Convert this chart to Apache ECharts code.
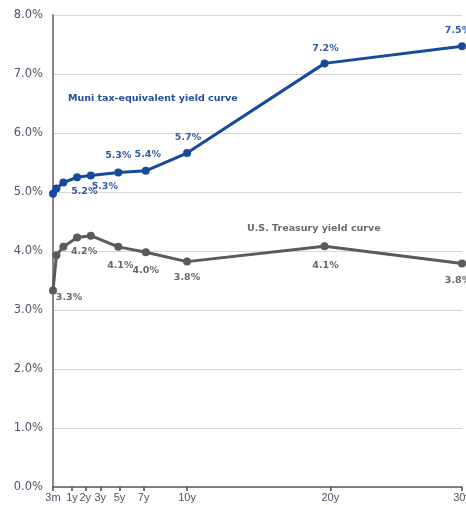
<!DOCTYPE html>
<html>
<head>
<meta charset="utf-8">
<script src="https://cdn.jsdelivr.net/npm/echarts@6/dist/echarts.min.js"></script>
<style>
  html, body { margin: 0; padding: 0; background: #fff; }
  #chart { width: 466px; height: 505px; }
</style>
</head>
<body>
<div id="chart"></div>
<script>
// Maturities in years (3m, 6m, 1y, 2y, 3y, 5y, 7y, 10y, 20y, 30y)
const maturities = [0.25, 0.5, 1, 2, 3, 5, 7, 10, 20, 30];
// Yields in percent
const muniYields = [4.97, 5.06, 5.16, 5.25, 5.28, 5.33, 5.36, 5.66, 7.18, 7.47];
const treasuryYields = [3.33, 3.93, 4.07, 4.23, 4.26, 4.07, 3.98, 3.82, 4.08, 3.79];
// Which points carry a value label
const muniLabelled = [false, false, true, false, true, true, true, true, true, true];
const treasuryLabelled = [true, false, false, true, false, true, true, true, true, true];
// Axis tick labels and where they sit along the maturity scale
const tickLabels = ['3m', '1y', '2y', '3y', '5y', '7y', '10y', '20y', '30y'];
const tickYears = [0.25, 1.63, 2.6, 3.69, 5.09, 6.84, 10, 20.42, 30];
const yTicks = [0, 1, 2, 3, 4, 5, 6, 7, 8];

// Label offsets relative to each point (pixels)
const muniLabelOffset = [null, null, [21, 9], null, [14, 11], [0, -17], [2, -16], [1, -16], [1, -15], [-4, -16]];
const treasuryLabelOffset = [[16, 7], null, null, [7, 14], null, [2, 19], [0, 18], [0, 16], [1, 19], [-4, 17]];

const BLUE = '#164a9c';
const GREY = '#5a5a5a';
const FONT = 'DejaVu Sans, Verdana, sans-serif';
const NARROW_FONT = 'Liberation Sans, Arial, sans-serif';

function buildSeriesData(values, labelled, offsets, color) {
  return values.map((v, i) => {
    const item = { value: [maturities[i], v] };
    if (labelled[i]) {
      item.label = {
        show: true,
        position: 'inside',
        offset: offsets[i],
        formatter: (p) => p.value[1].toFixed(1) + '%',
        color: color,
        fontFamily: FONT,
        fontSize: 9.5,
        fontWeight: 'bold'
      };
    }
    return item;
  });
}

const chart = echarts.init(document.getElementById('chart'), null, { renderer: 'canvas' });

chart.setOption({
  animation: false,
  backgroundColor: '#ffffff',
  grid: { left: 53, right: 4, top: 15, bottom: 18, containLabel: false, outerBoundsMode: 'none' },
  xAxis: {
    type: 'value',
    min: 0.25,
    max: 30,
    splitLine: { show: false },
    axisLine: { show: true, onZero: false, lineStyle: { color: '#5f5f5f', width: 1.5 } },
    axisTick: {
      show: true,
      customValues: tickYears,
      length: 4,
      lineStyle: { color: '#4a4a4a', width: 1.5 }
    },
    axisLabel: {
      customValues: tickYears,
      formatter: (v) => {
        const i = tickYears.findIndex((t) => Math.abs(t - v) < 1e-6);
        return i >= 0 ? tickLabels[i] : '';
      },
      color: '#4d5566',
      fontFamily: NARROW_FONT,
      fontSize: 11,
      margin: 5
    }
  },
  yAxis: {
    type: 'value',
    min: yTicks[0],
    max: yTicks[yTicks.length - 1],
    interval: 1,
    axisLine: { show: true, lineStyle: { color: '#5f5f5f', width: 1.5 } },
    axisTick: { show: false },
    splitLine: { show: true, lineStyle: { color: '#d6d6d6', width: 1 } },
    axisLabel: {
      formatter: (v) => v.toFixed(1) + '%',
      color: '#4d5566',
      fontFamily: FONT,
      fontSize: 11.5,
      margin: 10
    }
  },
  series: [
    {
      name: 'Muni tax-equivalent yield curve',
      type: 'line',
      data: buildSeriesData(muniYields, muniLabelled, muniLabelOffset, '#2f5ca8'),
      symbol: 'circle',
      symbolSize: 8,
      lineStyle: { color: BLUE, width: 3 },
      itemStyle: { color: BLUE },
      z: 3
    },
    {
      name: 'U.S. Treasury yield curve',
      type: 'line',
      data: buildSeriesData(treasuryYields, treasuryLabelled, treasuryLabelOffset, '#666666'),
      symbol: 'circle',
      symbolSize: 8,
      lineStyle: { color: GREY, width: 3 },
      itemStyle: { color: GREY },
      z: 2
    }
  ],
  graphic: [
    {
      type: 'text',
      left: 68,
      top: 94,
      style: {
        text: 'Muni tax-equivalent yield curve',
        fill: '#1f4f9e',
        font: 'bold 9.5px ' + FONT
      }
    },
    {
      type: 'text',
      left: 247,
      top: 224,
      style: {
        text: 'U.S. Treasury yield curve',
        fill: '#6a6a6a',
        font: 'bold 9.5px ' + FONT
      }
    }
  ]
});
</script>
</body>
</html>
